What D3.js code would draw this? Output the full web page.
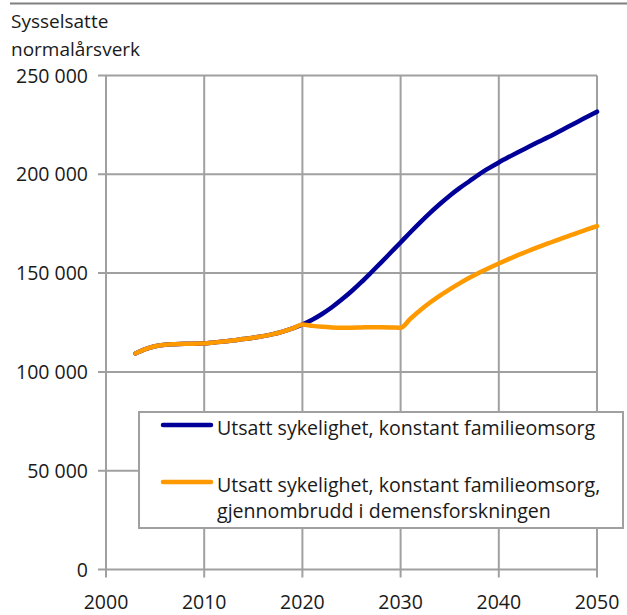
<!DOCTYPE html>
<html>
<head>
<meta charset="utf-8">
<script src="https://cdnjs.cloudflare.com/ajax/libs/d3/7.8.5/d3.min.js"></script>
<style>
  body { margin: 0; background: #fff; }
  svg { display: block; font-family: "Open Sans", "Noto Sans", sans-serif; }
</style>
</head>
<body>
<svg id="chart" width="627" height="615"></svg>
<script>
// years shown on the chart
var years = d3.range(2003, 2051);

// Utsatt sykelighet, konstant familieomsorg
var blueValues = [
    109300, 111500, 113000, 113700, 114000, 114200, 114300, 114400,
    114900, 115400, 116000, 116600, 117300, 118100, 119100, 120400,
    122000, 124000, 126400, 129300, 132700, 136600, 140800, 145400,
    150300, 155300, 160400, 165500, 170700, 175700, 180500, 185000,
    189200, 193000, 196500, 200000, 203100, 206000, 208700, 211300,
    213800, 216300, 218700, 221300, 223900, 226500, 229100, 231700
];

// ... gjennombrudd i demensforskningen
var orangeValues = [
    109300, 111500, 113000, 113700, 114000, 114200, 114300, 114400,
    114900, 115400, 116000, 116600, 117300, 118100, 119100, 120400,
    122000, 124000, 123300, 122800, 122500, 122400, 122400, 122500,
    122600, 122600, 122500, 122300, 126900, 131200, 135100, 138600,
    141800, 144800, 147600, 150200, 152600, 154900, 157100, 159200,
    161200, 163100, 165000, 166800, 168600, 170400, 172100, 173800
];

var yTicks = [0, 50000, 100000, 150000, 200000, 250000];
var xTicks = [2000, 2010, 2020, 2030, 2040, 2050];

var titleLines = ["Sysselsatte", "normalårsverk"];
var legendItems = [
    { color: "#000099", lines: ["Utsatt sykelighet, konstant familieomsorg"] },
    { color: "#ff9900", lines: ["Utsatt sykelighet, konstant familieomsorg,", "gjennombrudd i demensforskningen"] }
];

var svg = d3.select("#chart");
var gridColor = "#a0a0a0";

var x = d3.scaleLinear().domain([2000, 2050]).range([106, 597]);
var y = d3.scaleLinear().domain([0, 250000]).range([569.5, 75.5]);

var fmt = function(d) {
    return d3.format(",")(d).replace(/,/g, " ");
};

// top rule
svg.append("line")
    .attr("x1", 10).attr("x2", 627)
    .attr("y1", 3.5).attr("y2", 3.5)
    .attr("stroke", "#808080")
    .attr("stroke-width", 2);

// title
svg.append("g").selectAll("text")
    .data(titleLines).enter()
    .append("text")
    .attr("x", 11)
    .attr("y", (d, i) => 28 + i * 28)
    .attr("font-size", 19)
    .attr("fill", "#1a1a1a")
    .text(d => d);

// grid
var grid = svg.append("g")
    .attr("stroke", gridColor)
    .attr("stroke-width", 2);

grid.selectAll(".hgrid")
    .data(yTicks).enter()
    .append("line")
    .attr("class", "hgrid")
    .attr("x1", x(2000) - 8).attr("x2", x(2050))
    .attr("y1", d => y(d)).attr("y2", d => y(d));

grid.selectAll(".vgrid")
    .data(xTicks).enter()
    .append("line")
    .attr("class", "vgrid")
    .attr("x1", d => x(d)).attr("x2", d => x(d))
    .attr("y1", y(250000)).attr("y2", y(0) + 8);

// tick labels
svg.append("g").selectAll("text")
    .data(yTicks).enter()
    .append("text")
    .attr("x", 88)
    .attr("y", d => y(d))
    .attr("dy", "0.36em")
    .attr("text-anchor", "end")
    .attr("font-size", 19.5)
    .attr("fill", "#1a1a1a")
    .text(fmt);

svg.append("g").selectAll("text")
    .data(xTicks).enter()
    .append("text")
    .attr("x", d => x(d))
    .attr("y", 609)
    .attr("text-anchor", "middle")
    .attr("font-size", 19.5)
    .attr("fill", "#1a1a1a")
    .text(d => d);

// series
var line = d3.line()
    .x((d, i) => x(years[i]))
    .y(d => y(d))
    .curve(d3.curveMonotoneX);

[blueValues, orangeValues].forEach(function(vals, i) {
    svg.append("path")
        .datum(vals)
        .attr("d", line)
        .attr("fill", "none")
        .attr("stroke", legendItems[i].color)
        .attr("stroke-width", 4.5)
        .attr("stroke-linecap", "round")
        .attr("stroke-linejoin", "round");
});

// legend
var legend = svg.append("g");
legend.append("rect")
    .attr("x", 139).attr("y", 412)
    .attr("width", 484).attr("height", 116)
    .attr("fill", "#fff")
    .attr("stroke", gridColor)
    .attr("stroke-width", 2);

var rowY = [425, 482];
legendItems.forEach(function(item, i) {
    legend.append("line")
        .attr("x1", 163).attr("x2", 211)
        .attr("y1", rowY[i]).attr("y2", rowY[i])
        .attr("stroke", item.color)
        .attr("stroke-width", 4.5)
        .attr("stroke-linecap", "round");
    legend.append("g").selectAll("text")
        .data(item.lines).enter()
        .append("text")
        .attr("x", 217)
        .attr("y", (d, j) => rowY[i] + 10 + j * 26)
        .attr("font-size", 19.6)
        .attr("fill", "#1a1a1a")
        .text(d => d);
});
</script>
</body>
</html>
